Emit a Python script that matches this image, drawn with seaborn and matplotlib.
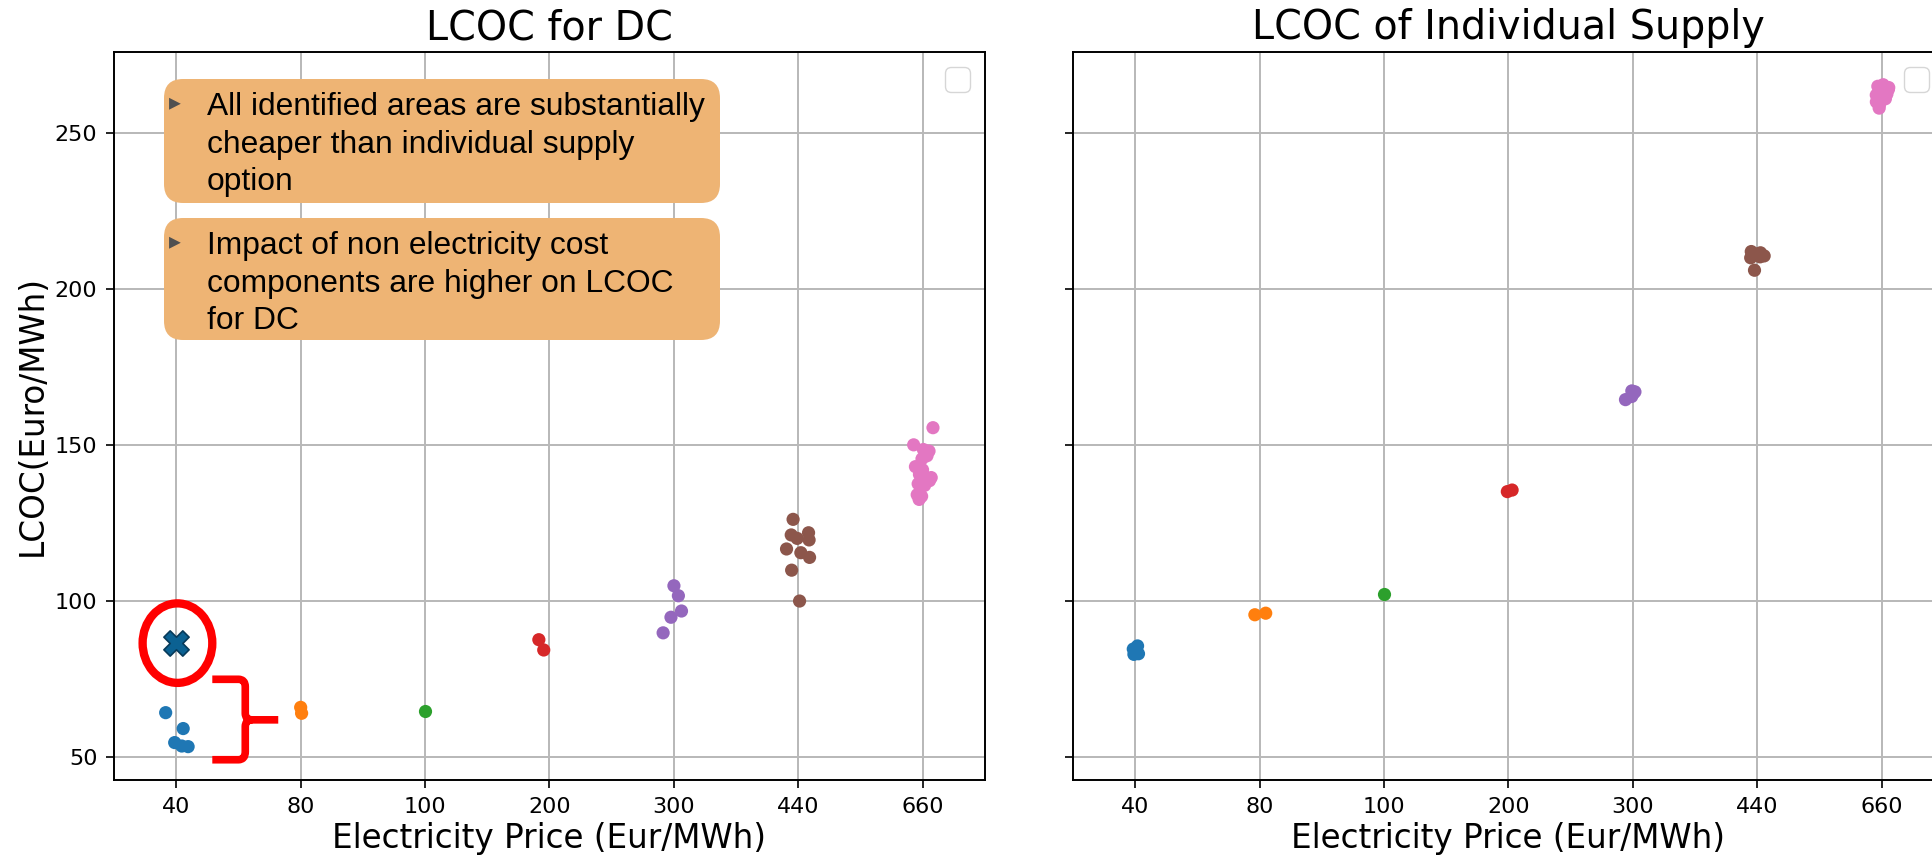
import numpy as np
import pandas as pd
import seaborn as sns
import matplotlib.pyplot as plt
from matplotlib.patches import FancyBboxPatch, Ellipse, PathPatch
from matplotlib.path import Path

# electricity price categories (Eur/MWh)
prices = ['40', '80', '100', '200', '300', '440', '660']

# LCOC for DC (Euro/MWh), one list per price level
dc_40 = [64.1, 59.0, 54.5, 53.4, 53.2]
dc_80 = [63.9, 65.8]
dc_100 = [64.6]
dc_200 = [87.5, 84.2]
dc_300 = [104.8, 101.6, 96.7, 94.7, 89.7]
dc_440 = [126.1, 121.8, 121.1, 120.0, 119.5, 116.6, 115.4, 113.9, 109.8, 99.9]
dc_660 = [155.5, 150.0, 148.5, 148.0, 146.5, 145.5, 143.0, 142.0, 141.5,
          141.0, 140.5, 139.5, 138.5, 137.5, 137.0, 134.0, 133.5, 132.5]

# LCOC of individual supply (Euro/MWh)
ind_40 = [85.5, 84.5, 83.5, 83.0, 82.8]
ind_80 = [96.0, 95.5]
ind_100 = [102.0]
ind_200 = [135.5, 135.0]
ind_300 = [167.3, 167.0, 166.5, 165.5, 164.5]
ind_440 = [212.0, 211.6, 211.2, 211.0, 210.6, 210.3, 210.0, 206.0]
ind_660 = [265.5, 265.0, 264.6, 264.0, 263.5, 263.0, 262.5, 262.2, 262.0,
           261.5, 261.0, 260.5, 260.0, 259.0, 258.0]

# highlighted DC point
highlight_price = '40'
highlight_lcoc = 86.5

note_1 = ['All identified areas are substantially', 'cheaper than individual supply', 'option']
note_2 = ['Impact of non electricity cost', 'components are higher on LCOC', 'for DC']


def long_table(groups):
    rows = []
    for p, vals in zip(prices, groups):
        rows += [(p, v) for v in vals]
    return pd.DataFrame(rows, columns=['price', 'lcoc'])


df_dc = long_table([dc_40, dc_80, dc_100, dc_200, dc_300, dc_440, dc_660])
df_ind = long_table([ind_40, ind_80, ind_100, ind_200, ind_300, ind_440, ind_660])

W, H, DPI = 1933, 866, 100
fig = plt.figure(figsize=(W / DPI, H / DPI), dpi=DPI)
ax1 = fig.add_axes([114 / W, 1 - 780 / H, 871 / W, 728 / H])
ax2 = fig.add_axes([1073 / W, 1 - 780 / H, 871 / W, 728 / H], sharey=ax1)

np.random.seed(7)
sns.stripplot(data=df_dc, x='price', y='lcoc', hue='price', order=prices, hue_order=prices,
              palette='tab10', size=9.5, jitter=0.1, legend=False, ax=ax1)
sns.stripplot(data=df_ind, x='price', y='lcoc', hue='price', order=prices, hue_order=prices,
              palette='tab10', size=9.5, jitter=0.06, legend=False, ax=ax2)

ax1.scatter([prices.index(highlight_price)], [highlight_lcoc], marker='X', s=330,
            color='#0b6192', edgecolor='#073a5a', linewidth=1.2, zorder=4)

for ax, title in [(ax1, 'LCOC for DC'), (ax2, 'LCOC of Individual Supply')]:
    ax.grid(True, color='#b8b8b8', linewidth=1.4)
    ax.set_axisbelow(True)
    ax.set_title(title, fontsize=28.5, pad=9)
    ax.set_xlabel('Electricity Price (Eur/MWh)', fontsize=23.5)
    ax.tick_params(labelsize=16, length=6, width=1.2, pad=6)
    for s in ax.spines.values():
        s.set_linewidth(1.4)
    ax.legend(loc='upper right', fontsize=22)

ax1.set_ylabel('LCOC(Euro/MWh)', fontsize=23.5)
ax2.set_ylabel('')
ax2.tick_params(labelleft=False)

# red circle round the highlighted point
ax1.add_patch(Ellipse((0.01, 86.4), 0.56, 25.5, fill=False, edgecolor='#ff0000',
                      linewidth=6, zorder=5))

# red curly brace next to the low cluster
verts = [(0.29, 74.8), (0.50, 74.8), (0.555, 74.8), (0.555, 72.4), (0.555, 63.9),
         (0.555, 61.8), (0.61, 61.8), (0.82, 61.8),
         (0.61, 61.8), (0.555, 61.8), (0.555, 59.6), (0.555, 51.6),
         (0.555, 49.0), (0.50, 49.0), (0.29, 49.0)]
codes = [Path.MOVETO, Path.LINETO, Path.CURVE3, Path.CURVE3, Path.LINETO,
         Path.CURVE3, Path.CURVE3, Path.LINETO,
         Path.MOVETO, Path.CURVE3, Path.CURVE3, Path.LINETO,
         Path.CURVE3, Path.CURVE3, Path.LINETO]
ax1.add_patch(PathPatch(Path(verts, codes), fill=False, edgecolor='#ff0000',
                        linewidth=5.5, capstyle='butt', joinstyle='round', zorder=5))

for ax in (ax1, ax2):
    ax.set_xlim(-0.5, len(prices) - 0.5)
ax1.set_ylim(42.5, 276)

# orange note boxes (pixel layout)
for top, bottom, lines in [(79, 203, note_1), (218, 340, note_2)]:
    box = FancyBboxPatch((164 / DPI, (H - bottom) / DPI), (720 - 164) / DPI, (bottom - top) / DPI,
                         boxstyle='round,pad=0,rounding_size=0.19', transform=fig.dpi_scale_trans,
                         facecolor='#eeb474', edgecolor='none', zorder=6)
    fig.add_artist(box)
    fig.text(175 / W, 1 - (top + 23) / H, '\u25b8', fontsize=17, color='#505050',
             ha='center', va='center', zorder=7)
    for i, line in enumerate(lines):
        fig.text(207 / W, 1 - (top + 36 + 37.7 * i) / H, line, fontsize=22.9,
                 family='Liberation Sans', color='black', va='baseline', zorder=7)

fig.savefig('out.png', dpi=DPI)
